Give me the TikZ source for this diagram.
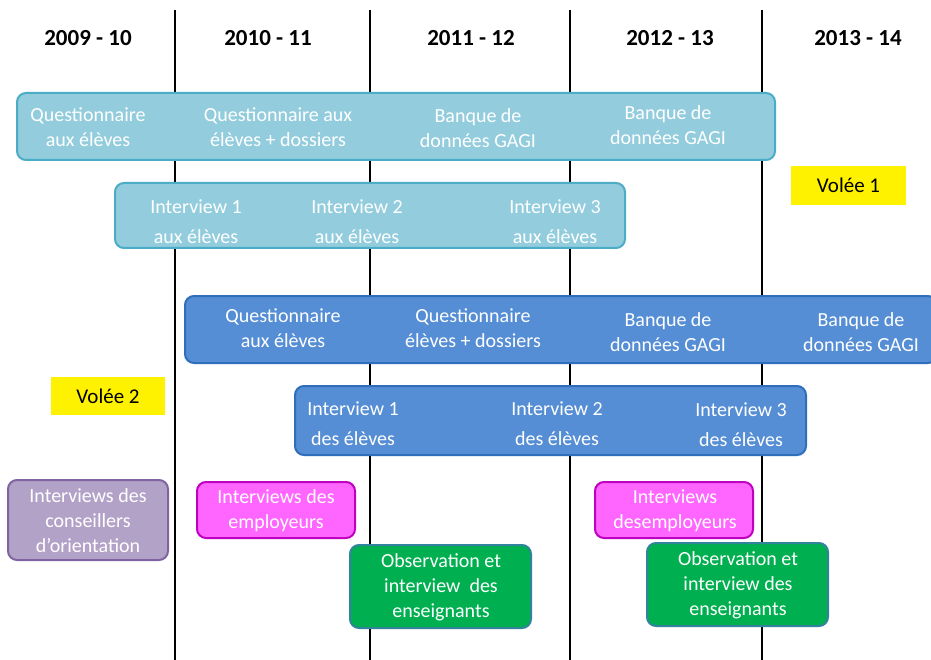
\documentclass[tikz,border=0pt]{standalone}
\usepackage{fontspec}
\setmainfont{Carlito}
\definecolor{lbfill}{HTML}{93CDDD}
\definecolor{lbline}{HTML}{4BACC6}
\definecolor{bfill}{HTML}{558ED5}
\definecolor{bline}{HTML}{2F6EBA}
\definecolor{pfill}{HTML}{B3A2C7}
\definecolor{pline}{HTML}{8064A2}
\definecolor{mfill}{HTML}{FF66FF}
\definecolor{mline}{HTML}{C000C0}
\definecolor{gfill}{HTML}{00B050}
\definecolor{gline}{HTML}{31849B}
\begin{document}
\begin{tikzpicture}[x=1pt,y=-1pt,
  box/.style={draw, line width=2pt, rounded corners=9pt, inner sep=0pt},
  lb/.style={box, fill=lbfill, draw=lbline},
  bb/.style={box, fill=bfill, draw=bline},
  txt/.style={text=white, align=center, font=\fontsize{20}{25}\selectfont, inner sep=0pt},
  txtw/.style={txt, font=\fontsize{20}{30}\selectfont},
  hdr/.style={font=\fontsize{23}{24}\selectfont\bfseries, inner sep=0pt},
  vol/.style={fill=yellow, font=\fontsize{21}{22}\selectfont, inner sep=0pt},
  yl/.style={line width=1.2pt, black}]
\useasboundingbox (0,0) rectangle (931,660);
\fill[white] (0,0) rectangle (931,660);
% year separators
\foreach \x/\n in {175/a,370/b,570/c,762/d}{
  \coordinate (t\n) at (\x,10);
  \coordinate (u\n) at (\x,660);
  \draw[yl] (t\n) -- (u\n);
}
% headers
\node[hdr] (h1) at (88,38) {2009 - 10};
\node[hdr] (h2) at (268,38) {2010 - 11};
\node[hdr] (h3) at (471,38) {2011 - 12};
\node[hdr] (h4) at (670,38) {2012 - 13};
\node[hdr] (h5) at (858,38) {2013 - 14};
% Volée 1 row 1
\node[lb, minimum width=758pt, minimum height=67pt] (r1) at (396,126.5) {};
\node[txt] (r1a) at (88,127) {Questionnaire\\aux élèves};
\node[txt] (r1b) at (278,127) {Questionnaire aux\\élèves + dossiers};
\node[txt] (r1c) at (478,128) {Banque de\\données GAGI};
\node[txt] (r1d) at (668,125) {Banque de\\données GAGI};
% Volée 1 row 2
\node[lb, minimum width=510pt, minimum height=65pt] (r2) at (370,215.5) {};
\node[txtw] (r2a) at (196,222) {Interview 1\\aux élèves};
\node[txtw] (r2b) at (357,222) {Interview 2\\aux élèves};
\node[txtw] (r2c) at (555,222) {Interview 3\\aux élèves};
\node[vol, minimum width=115pt, minimum height=39pt] (v1) at (848.5,185.5) {Volée 1};
% Volée 2 row 1
\node[bb, minimum width=752pt, minimum height=67pt] (r3) at (561,329.5) {};
\node[txt] (r3a) at (283,328.5) {Questionnaire\\aux élèves};
\node[txt] (r3b) at (473,328.5) {Questionnaire\\élèves + dossiers};
\node[txt] (r3c) at (668,332) {Banque de\\données GAGI};
\node[txt] (r3d) at (861,332) {Banque de\\données GAGI};
\node[vol, minimum width=114pt, minimum height=38pt] (v2) at (108,396) {Volée 2};
% Volée 2 row 2
\node[bb, minimum width=511pt, minimum height=69pt] (r4) at (550.5,420.5) {};
\node[txtw] (r4a) at (353,424) {Interview 1\\des élèves};
\node[txtw] (r4b) at (557,423.5) {Interview 2\\des élèves};
\node[txtw] (r4c) at (741,425) {Interview 3\\des élèves};
% other boxes
\node[box, fill=pfill, draw=pline, minimum width=160pt, minimum height=80pt] (p1) at (88,520) {};
\node[txt] (p1t) at (88,521) {Interviews des\\conseillers\\d’orientation};
\node[box, fill=mfill, draw=mline, minimum width=158pt, minimum height=56pt] (m1) at (276,510) {};
\node[txt] (m1t) at (276,510.5) {Interviews des\\employeurs};
\node[box, fill=mfill, draw=mline, minimum width=158pt, minimum height=56pt] (m2) at (674,510) {};
\node[txt] (m2t) at (675,510.5) {Interviews\\desemployeurs};
\node[box, fill=gfill, draw=gline, minimum width=181pt, minimum height=83pt] (g1) at (440.5,586.5) {};
\node[txt] (g1t) at (441,587.5) {Observation et\\interview~~des\\enseignants};
\node[box, fill=gfill, draw=gline, minimum width=181pt, minimum height=83pt] (g2) at (737.5,584.5) {};
\node[txt] (g2t) at (738,585) {Observation et\\interview des\\enseignants};
\end{tikzpicture}
\end{document}
